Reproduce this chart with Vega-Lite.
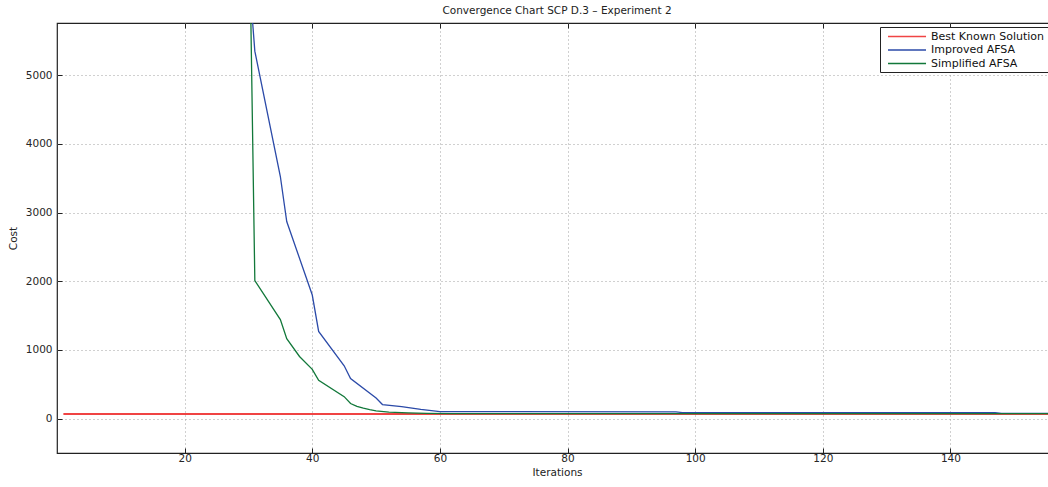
{
  "$schema": "https://vega.github.io/schema/vega-lite/v6.json",
  "width": 1000,
  "height": 430,
  "autosize": {"type": "none"},
  "padding": {"left": 57, "top": 23, "right": 0, "bottom": 34},
  "background": "white",
  "title": {
    "text": "Convergence Chart SCP D.3 – Experiment 2",
    "font": "DejaVu Sans",
    "fontSize": 10.5,
    "fontWeight": "normal",
    "color": "#222222",
    "anchor": "middle",
    "offset": 6
  },
  "config": {
    "font": "DejaVu Sans",
    "view": {"stroke": "#222222", "strokeWidth": 1.2},
    "axis": {
      "labelFont": "DejaVu Sans",
      "labelFontSize": 10.5,
      "labelColor": "#262626",
      "titleFont": "DejaVu Sans",
      "titleFontSize": 10.5,
      "titleFontWeight": "normal",
      "titleColor": "#222222",
      "domain": false,
      "tickColor": "#222222",
      "tickSize": -5,
      "gridColor": "#a0a0a0",
      "gridDash": [1, 3],
      "gridWidth": 1
    }
  },
  "data": {
    "values": [
      {"series": "Best Known Solution", "iteration": 1, "cost": 68},
      {"series": "Best Known Solution", "iteration": 157, "cost": 68},

      {"series": "Improved AFSA", "iteration": 30, "cost": 6560},
      {"series": "Improved AFSA", "iteration": 31, "cost": 5350},
      {"series": "Improved AFSA", "iteration": 35, "cost": 3525},
      {"series": "Improved AFSA", "iteration": 36, "cost": 2870},
      {"series": "Improved AFSA", "iteration": 40, "cost": 1800},
      {"series": "Improved AFSA", "iteration": 41, "cost": 1270},
      {"series": "Improved AFSA", "iteration": 45, "cost": 770},
      {"series": "Improved AFSA", "iteration": 46, "cost": 585},
      {"series": "Improved AFSA", "iteration": 50, "cost": 300},
      {"series": "Improved AFSA", "iteration": 51, "cost": 205},
      {"series": "Improved AFSA", "iteration": 54, "cost": 175},
      {"series": "Improved AFSA", "iteration": 57, "cost": 135},
      {"series": "Improved AFSA", "iteration": 60, "cost": 103},
      {"series": "Improved AFSA", "iteration": 70, "cost": 101},
      {"series": "Improved AFSA", "iteration": 97, "cost": 100},
      {"series": "Improved AFSA", "iteration": 98, "cost": 87},
      {"series": "Improved AFSA", "iteration": 147, "cost": 86},
      {"series": "Improved AFSA", "iteration": 148, "cost": 76},
      {"series": "Improved AFSA", "iteration": 157, "cost": 76},

      {"series": "Simplified AFSA", "iteration": 30, "cost": 8100},
      {"series": "Simplified AFSA", "iteration": 31, "cost": 2010},
      {"series": "Simplified AFSA", "iteration": 35, "cost": 1443},
      {"series": "Simplified AFSA", "iteration": 36, "cost": 1165},
      {"series": "Simplified AFSA", "iteration": 38, "cost": 905},
      {"series": "Simplified AFSA", "iteration": 40, "cost": 717},
      {"series": "Simplified AFSA", "iteration": 41, "cost": 557},
      {"series": "Simplified AFSA", "iteration": 45, "cost": 320},
      {"series": "Simplified AFSA", "iteration": 46, "cost": 220},
      {"series": "Simplified AFSA", "iteration": 47, "cost": 180},
      {"series": "Simplified AFSA", "iteration": 48, "cost": 152},
      {"series": "Simplified AFSA", "iteration": 49, "cost": 130},
      {"series": "Simplified AFSA", "iteration": 50, "cost": 112},
      {"series": "Simplified AFSA", "iteration": 52, "cost": 95},
      {"series": "Simplified AFSA", "iteration": 55, "cost": 83},
      {"series": "Simplified AFSA", "iteration": 58, "cost": 77},
      {"series": "Simplified AFSA", "iteration": 62, "cost": 74},
      {"series": "Simplified AFSA", "iteration": 70, "cost": 73},
      {"series": "Simplified AFSA", "iteration": 157, "cost": 73}
    ]
  },
  "encoding": {
    "x": {
      "field": "iteration",
      "type": "quantitative",
      "scale": {"domain": [0, 156.7], "nice": false, "zero": false}
    },
    "y": {
      "field": "cost",
      "type": "quantitative",
      "scale": {"domain": [-500, 5760], "nice": false, "zero": false},
      "axis": {
        "title": "Cost",
        "values": [0, 1000, 2000, 3000, 4000, 5000],
        "format": "d",
        "labelPadding": 10,
        "titlePadding": 7
      }
    },
    "color": {
      "field": "series",
      "type": "nominal",
      "scale": {
        "domain": ["Best Known Solution", "Improved AFSA", "Simplified AFSA"],
        "range": ["#f04444", "#2b4aa8", "#12783a"]
      },
      "legend": {
        "title": null,
        "orient": "none",
        "legendX": 823,
        "legendY": 4,
        "symbolType": "M-0.27,0H6.64",
        "symbolSize": 121,
        "symbolStrokeWidth": 1.3,
        "labelFont": "DejaVu Sans",
        "labelFontSize": 11,
        "labelColor": "#111111",
        "labelOffset": 35,
        "rowPadding": 1.5,
        "padding": 3,
        "strokeColor": "#222222",
        "fillColor": "white"
      }
    }
  },
  "layer": [
    {
      "transform": [{"filter": "datum.series === 'Best Known Solution'"}],
      "mark": {"type": "line", "clip": true, "strokeWidth": 1.8},
      "encoding": {
        "x": {
          "field": "iteration",
          "type": "quantitative",
          "axis": {
            "title": "Iterations",
            "values": [20, 40, 60, 80, 100, 120, 140],
            "labelPadding": 5,
            "titlePadding": 4
          }
        }
      }
    },
    {
      "transform": [{"filter": "datum.series === 'Improved AFSA'"}],
      "mark": {"type": "line", "clip": true, "strokeWidth": 1.3},
      "encoding": {
        "x": {
          "field": "iteration",
          "type": "quantitative",
          "axis": {
            "orient": "top",
            "title": null,
            "labels": false,
            "grid": false,
            "values": [20, 40, 60, 80, 100, 120, 140]
          }
        }
      }
    },
    {
      "transform": [{"filter": "datum.series === 'Simplified AFSA'"}],
      "mark": {"type": "line", "clip": true, "strokeWidth": 1.3},
      "encoding": {
        "x": {
          "field": "iteration",
          "type": "quantitative",
          "axis": null
        }
      }
    }
  ],
  "resolve": {"axis": {"x": "independent"}}
}
